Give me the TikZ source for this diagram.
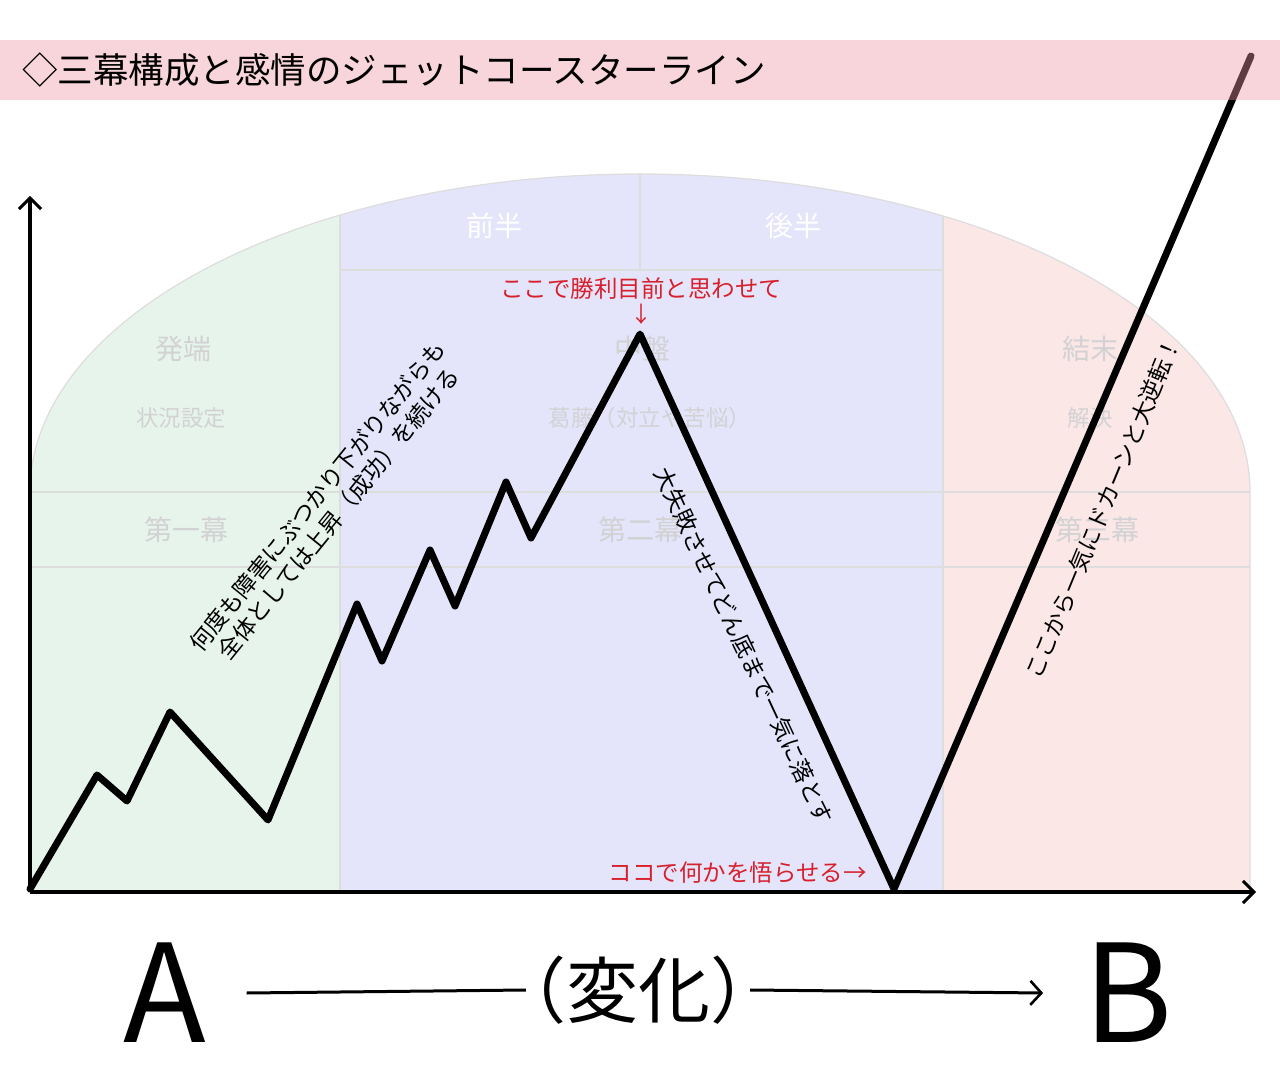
\documentclass[tikz,border=0pt]{standalone}
\usepackage{fontspec}
\setmainfont{Noto Sans CJK JP}
\usetikzlibrary{arrows.meta}
\definecolor{bandc}{RGB}{238,152,167}
\definecolor{greenc}{RGB}{231,244,236}
\definecolor{bluec}{RGB}{228,229,250}
\definecolor{pinkc}{RGB}{252,231,231}
\definecolor{gridc}{RGB}{221,221,221}
\definecolor{faintc}{RGB}{210,210,212}
\definecolor{redc}{RGB}{216,32,44}
\newcommand{\fsz}[2]{\fontsize{#1}{#2}\selectfont}
\tikzset{
  faint/.style={text=faintc, inner sep=0},
  faintbig/.style={faint, font=\fsz{28}{32}},
  faintsmall/.style={faint, font=\fsz{22.5}{26}},
  headlbl/.style={text=white, inner sep=0, font=\fsz{28}{32}},
  redlbl/.style={text=redc, inner sep=0, font=\fsz{23.5}{27}},
  note/.style={text=black, inner sep=0, font=\fsz{23}{27}, align=center},
  axisline/.style={line width=3.6pt, -{Straight Barb[length=11pt,width=22pt,line width=3pt]}},
  coaster/.style={line width=7pt, line join=round, line cap=round},
  gridline/.style={gridc, line width=1.6pt},
  bigletter/.style={inner ysep=0, inner xsep=40pt, font=\fsz{136}{140}},
  changearrow/.style={line width=3pt},
}
\begin{document}
\begin{tikzpicture}[x=1pt,y=-1pt]
\useasboundingbox (0,0) rectangle (1280,1083);
\fill[white] (0,0) rectangle (1280,1083);

% background arch with three acts
\begin{scope}
  \clip (30,892) -- (30,492) arc[start angle=180,end angle=0,x radius=610pt,y radius=318pt] -- (1250,892) -- cycle;
  \fill[greenc] (30,100) rectangle (340,892);
  \fill[bluec] (340,100) rectangle (943,892);
  \fill[pinkc] (943,100) rectangle (1250,892);
  \draw[gridline] (340,100) -- (340,892) (943,100) -- (943,892)
        (640,100) -- (640,270) (340,270) -- (943,270)
        (30,492) -- (1250,492) (30,567) -- (1250,567);
\end{scope}
\draw[gridline, line width=1.2pt] (30,892) -- (30,492) arc[start angle=180,end angle=0,x radius=610pt,y radius=318pt] -- (1250,892);

% faint labels
\node[headlbl] (zenhan) at (494,226) {前半};
\node[headlbl] (kouhan) at (793,226) {後半};
\node[faintbig] (hottan) at (183,349) {発端};
\node[faintsmall] (joukyou) at (181,418) {状況設定};
\node[faintbig] (act1) at (186,530) {第一幕};
\node[faintbig] (chuuban) at (642,349) {中盤};
\node[faintsmall] (kattou) at (650,418) {葛藤（対立や苦悩）};
\node[faintbig] (act2) at (640,530) {第二幕};
\node[faintbig] (ketsumatsu) at (1090,349) {結末};
\node[faintsmall] (kaiketsu) at (1090,418) {解決};
\node[faintbig] (act3) at (1097,530) {第三幕};

% axes
\coordinate (O) at (30,892);
\coordinate (ytop) at (30,196);
\coordinate (xend) at (1256,892);
\draw[axisline] (O) -- (ytop);
\draw[axisline] (O) -- (xend);

% coaster line
\coordinate (p0) at (30,889);
\coordinate (p1) at (97,775);
\coordinate (p2) at (127,801);
\coordinate (p3) at (170,712);
\coordinate (p4) at (268,820);
\coordinate (p5) at (357,604);
\coordinate (p6) at (382,661);
\coordinate (p7) at (430,550);
\coordinate (p8) at (455,606);
\coordinate (p9) at (506,482);
\coordinate (p10) at (531,538);
\coordinate (p11) at (640,334);
\coordinate (p12) at (894,889);
\coordinate (p13) at (1251,56);
\draw[coaster] (p0) -- (p1) -- (p2) -- (p3) -- (p4) -- (p5) -- (p6) -- (p7) -- (p8) -- (p9) -- (p10) -- (p11) -- (p12) -- (p13);

% title band
\fill[bandc, fill opacity=0.4] (0,40) rectangle (1280,100);
\node[anchor=west, inner sep=0, font=\fsz{35.5}{40}] (title) at (22,70) {◇三幕構成と感情のジェットコースターライン};

% annotations
\node[note, rotate=51] (rise) at (328,505) {何度も障害にぶつかり下がりながらも\\全体としては上昇（成功）を続ける};
\node[note, rotate=-65] (fall) at (744,646) {大失敗させてどん底まで一気に落とす};
\node[note, rotate=67.5] (turn) at (1103,508) {ここから一気にドカーンと大逆転！};
\node[redlbl] (win) at (641,289) {ここで勝利目前と思わせて};
\node[redlbl, font=\fsz{22}{26}] (winarrow) at (641,314) {↓};
\node[redlbl, anchor=east] (realize) at (867,873) {ココで何かを悟らせる→};

% A -> B
\node[bigletter] (A) at (165,993) {A};
\node[bigletter] (B) at (1128,993) {B};
\node[inner sep=0, font=\fsz{72}{76}] (chg) at (638,990) {（変化）};
\draw[changearrow] (A.east) -- ([xshift=32pt]chg.west);
\draw[changearrow, -{Straight Barb[length=11pt,width=24pt,line width=2.6pt]}] ([xshift=-32pt]chg.east) -- (B.west);
\end{tikzpicture}
\end{document}
